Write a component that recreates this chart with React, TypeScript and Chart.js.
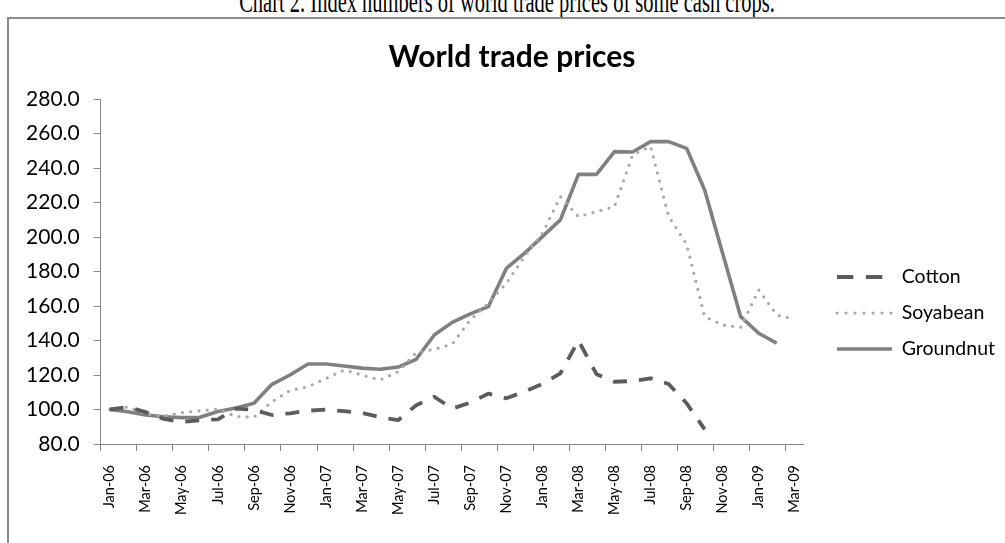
import React, { useEffect, useRef } from "react";
import { Chart, registerables } from "chart.js";

Chart.register(...registerables);

// ---- data ----
const months = [
  "Jan-06", "Feb-06", "Mar-06", "Apr-06", "May-06", "Jun-06", "Jul-06", "Aug-06", "Sep-06", "Oct-06", "Nov-06", "Dec-06",
  "Jan-07", "Feb-07", "Mar-07", "Apr-07", "May-07", "Jun-07", "Jul-07", "Aug-07", "Sep-07", "Oct-07", "Nov-07", "Dec-07",
  "Jan-08", "Feb-08", "Mar-08", "Apr-08", "May-08", "Jun-08", "Jul-08", "Aug-08", "Sep-08", "Oct-08", "Nov-08", "Dec-08",
  "Jan-09", "Feb-09", "Mar-09",
];

const cotton: (number | null)[] = [
  100, 101.5, 98.5, 94.5, 92.8, 93.8, 94.3, 100.5, 99.8, 96.8, 97.8, 99.3,
  100, 99, 98, 95.5, 93.8, 102.5, 107.4, 100.5, 104, 109.2, 106.5, 110.3,
  114.8, 121, 140, 120.5, 116.1, 116.5, 118.1, 114.8, 103.6, 88.5, null, null,
  null, null, null,
];

const soyabean: (number | null)[] = [
  100, 101.5, 97.4, 96.2, 98.2, 99.2, 100.2, 96, 95.5, 104.5, 111, 113.2,
  118, 122.9, 120, 117.1, 121.9, 133, 134.9, 138, 151.9, 161.6, 173.2, 188.6,
  202.1, 223.4, 211.8, 214.7, 217.6, 247.5, 252.5, 212, 195.8, 153.8, 149, 147.6,
  169.3, 154.8, 152.3,
];

const groundnut: (number | null)[] = [
  100, 98.7, 96.8, 95.8, 95.3, 95.5, 98.8, 100.9, 103.6, 114.6, 120, 126.4,
  126.4, 125.2, 124, 123.3, 124.6, 129.1, 143.2, 150.5, 155.4, 159.6, 181.8, 190.5,
  200.2, 209.9, 236.3, 236.3, 249.5, 249.3, 255.3, 255.3, 251.4, 227.2, 190.5, 153.8,
  144.2, 138.4, null,
];

const seriesNames = ["Cotton", "Soyabean", "Groundnut"];
const yMin = 80;
const yMax = 280;
const yStep = 20;

const titleText = "World trade prices";
const captionText = "Chart 2. Index numbers of world trade prices of some cash crops.";

// ---- styles ----
const AXIS = "#868686";
const dotted = (n: number, step: number) => {
  const a: number[] = [];
  for (let i = 0; i < n - 1; i++) a.push(0, step);
  a.push(0, 200);
  return a;
};
const LEGEND_LEAD = 16.7; // blank lead-in inside the legend sample box
const seriesStyles = [
  { color: "#5c5c5c", width: 3.8, dash: [14, 12], legendDash: [16.4, 12.5, 16.4, 200], cap: "butt" as CanvasLineCap },
  { color: "#a8a8a8", width: 3.2, dash: [0, 8.3], legendDash: dotted(7, 9), cap: "round" as CanvasLineCap },
  { color: "#808080", width: 3.6, dash: [] as number[], legendDash: [55, 200], cap: "butt" as CanvasLineCap },
];

const CANVAS_W = 1030;
const CANVAS_H = 590;
const LEGEND_FONT = 19.5;
const LEGEND_PAD = 16.5;
const LEGEND_BOX = 71.7;
const PLOT_LEFT = 92.7; // canvas px
const PLOT_RIGHT = 795.8; // canvas px
const TITLE_CENTER = 504; // canvas px

export default function App() {
  const canvasRef = useRef<HTMLCanvasElement | null>(null);

  useEffect(() => {
    const canvas = canvasRef.current;
    if (!canvas) return;

    const mctx = document.createElement("canvas").getContext("2d")!;
    mctx.font = `${LEGEND_FONT}px Lato`;
    const textW = Math.max(...seriesNames.map((n) => mctx.measureText(n).width));
    const legendW = LEGEND_PAD + LEGEND_BOX + LEGEND_FONT / 2 + textW + 10;
    const innerRight = PLOT_RIGHT + legendW;
    const padR = CANVAS_W - innerRight;
    const padL = 2 * TITLE_CENTER - innerRight;
    const yAxisW = PLOT_LEFT - padL;

    const seriesData = [cotton, soyabean, groundnut];
    const chart = new Chart(canvas, {
      type: "line",
      data: {
        labels: months,
        datasets: seriesData.map((d, i) => ({
          label: seriesNames[i],
          data: d,
          borderColor: seriesStyles[i].color,
          backgroundColor: seriesStyles[i].color,
          borderWidth: seriesStyles[i].width,
          borderDash: seriesStyles[i].dash,
          borderCapStyle: seriesStyles[i].cap,
          borderJoinStyle: "round" as CanvasLineJoin,
          pointRadius: 0,
          pointHoverRadius: 0,
          tension: 0,
          fill: false,
          spanGaps: false,
        })),
      },
      options: {
        responsive: false,
        animation: false,
        devicePixelRatio: 1,
        events: [],
        layout: { padding: { left: padL, right: padR, top: 0, bottom: 0 } },
        plugins: {
          tooltip: { enabled: false },
          title: {
            display: true,
            text: titleText,
            color: "#000",
            font: { family: "Lato", size: 30, weight: "bold", lineHeight: 1.2 },
            padding: { top: 21.2, bottom: 23.8 },
          },
          legend: {
            display: true,
            position: "right",
            align: "center",
            labels: {
              usePointStyle: true,
              pointStyleWidth: LEGEND_BOX,
              padding: LEGEND_PAD,
              color: "#000",
              font: { family: "Lato", size: LEGEND_FONT },
              generateLabels: (ch: any) =>
                ch.data.datasets.map((ds: any, i: number) => ({
                  text: ds.label,
                  fillStyle: "rgba(0,0,0,0)",
                  strokeStyle: seriesStyles[i].color,
                  lineWidth: seriesStyles[i].width,
                  lineDash: seriesStyles[i].legendDash,
                  lineDashOffset: -LEGEND_LEAD,
                  lineCap: seriesStyles[i].cap,
                  pointStyle: "line",
                  fontColor: "#000",
                  hidden: false,
                  datasetIndex: i,
                })),
            },
          },
        },
        scales: {
          x: {
            type: "category",
            offset: true,
            afterFit: (s: any) => {
              s.height = 164;
            },
            grid: {
              display: true,
              offset: true,
              drawOnChartArea: false,
              drawTicks: true,
              tickLength: 7,
              tickWidth: 1,
              tickColor: (ctx: any) => (ctx.index % 2 === 0 ? AXIS : "rgba(0,0,0,0)"),
            },
            border: { display: true, color: AXIS, width: 1 },
            ticks: {
              autoSkip: false,
              minRotation: 90,
              maxRotation: 90,
              padding: 14,
              color: "#000",
              font: { family: "Lato", size: 14.5 },
              callback: (_v: any, idx: number) => (idx % 2 === 0 ? months[idx] : ""),
            },
          },
          y: {
            type: "linear",
            position: "left",
            min: yMin,
            max: yMax,
            afterFit: (s: any) => {
              s.width = yAxisW;
            },
            grid: {
              display: true,
              drawOnChartArea: false,
              drawTicks: true,
              tickLength: 7,
              tickColor: AXIS,
            },
            border: { display: true, color: AXIS, width: 1 },
            ticks: {
              stepSize: yStep,
              padding: 14,
              color: "#000",
              font: { family: "Lato", size: 21 },
              callback: (v: any) => Number(v).toFixed(1),
            },
          },
        },
      },
    } as any);
    return () => chart.destroy();
  }, []);

  return (
    <div
      style={{
        position: "fixed",
        left: 0,
        top: 0,
        width: 1005,
        height: 543,
        overflow: "hidden",
        background: "#fff",
      }}
    >
      <div
        style={{
          position: "absolute",
          left: 0,
          top: -4.7,
          width: 1014,
          textAlign: "center",
          fontFamily: "'Liberation Serif', serif",
          fontSize: 20.5,
          lineHeight: "20.5px",
          color: "#000",
          whiteSpace: "nowrap",
          transform: "scaleY(1.5)",
          transformOrigin: "50% 17.2px",
        }}
      >
        {captionText}
      </div>
      <div
        style={{
          position: "absolute",
          left: 7,
          top: 17,
          width: 1100,
          height: 700,
          border: "2px solid #8a8a8a",
          boxSizing: "border-box",
        }}
      />
      <canvas
        ref={canvasRef}
        width={CANVAS_W}
        height={CANVAS_H}
        style={{ position: "absolute", left: 8, top: 18, width: CANVAS_W, height: CANVAS_H }}
      />
    </div>
  );
}
